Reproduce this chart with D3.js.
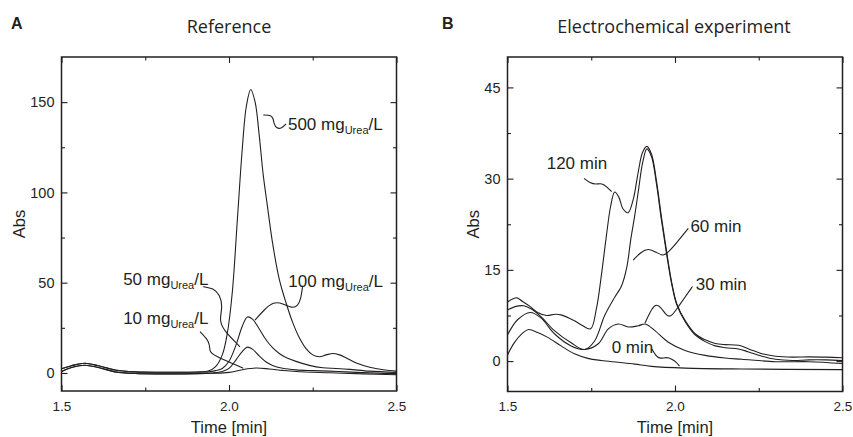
<!DOCTYPE html>
<html>
<head>
<meta charset="utf-8">
<script src="https://cdn.jsdelivr.net/npm/d3@7"></script>
<style>
  body { margin: 0; background: #fff; }
  svg { display: block; }
</style>
</head>
<body>
<div id="chart"></div>
<script>
// ---- Panel A: reference chromatograms, [time (min), Abs] ----
const ref500 = [[1.5,2.3],[1.53,4.0],[1.57,5.4],[1.61,4.0],[1.66,1.6],[1.72,0.6],[1.8,0.4],[1.9,0.5],[1.94,1.2],[1.96,3.5],[1.98,10],[1.995,22],[2.01,45],[2.025,85],[2.04,125],[2.052,148],[2.065,157],[2.078,150],[2.09,132],[2.102,110],[2.115,92],[2.13,72],[2.15,52],[2.17,39],[2.19,28],[2.21,19.5],[2.23,13.5],[2.25,10],[2.27,9],[2.29,10],[2.31,10.8],[2.33,10],[2.35,8.3],[2.38,5.5],[2.42,3.2],[2.46,1.8],[2.5,1.0]];
const ref100 = [[1.5,2.3],[1.53,4.0],[1.57,5.4],[1.61,4.0],[1.66,1.6],[1.72,0.6],[1.8,0.4],[1.9,0.4],[1.94,0.6],[1.96,1.3],[1.98,2.5],[2.0,6.5],[2.02,15],[2.04,26],[2.055,31],[2.07,29.8],[2.09,24.5],[2.11,18.5],[2.13,14],[2.15,10.8],[2.17,8.6],[2.2,6.4],[2.24,4.2],[2.28,2.9],[2.32,2.5],[2.36,2.0],[2.42,1.0],[2.5,0.3]];
const ref50  = [[1.5,0.8],[1.53,3.0],[1.57,4.3],[1.61,3.0],[1.66,0.6],[1.72,-0.3],[1.8,-0.5],[1.9,-0.4],[1.95,0],[1.98,0.8],[2.0,2.5],[2.02,7],[2.04,12],[2.055,14.3],[2.07,13.2],[2.09,9.5],[2.11,6.2],[2.13,4.1],[2.16,2.6],[2.2,1.7],[2.25,1.3],[2.3,1.0],[2.35,0.6],[2.4,0.2],[2.5,-0.5]];
const ref10  = [[1.5,0.8],[1.53,3.0],[1.57,4.3],[1.61,3.0],[1.66,0.6],[1.72,-0.3],[1.8,-0.5],[1.9,-0.4],[1.95,-0.2],[2.0,0.3],[2.04,1.8],[2.08,2.7],[2.12,2.2],[2.16,1.4],[2.2,0.8],[2.3,0.1],[2.4,-0.5],[2.5,-1.0]];

// leader squiggles from curve to label
const leadA500 = [[2.1024,142.9],[2.1245,142.9],[2.1322,141.0],[2.1343,137.9],[2.1424,135.3],[2.1573,135.5],[2.1701,137.9]];
const leadA100 = [[2.0776,29.3],[2.1045,34.9],[2.1322,39.5],[2.1612,38.5],[2.1872,35.8],[2.206,37.1],[2.2149,41.5],[2.2194,47.6]];
const leadA50  = [[1.9233,47.8],[1.9531,46.9],[1.9731,43.2],[1.9812,36.7],[1.971,29.3],[1.983,23.8],[2.0328,14.5]];
const leadA10  = [[1.9134,22.9],[1.9433,17.3],[1.9412,11.8],[1.9531,9.9],[2.0427,2.6]];

// label anchors [t, v] and text pieces
const labelsA = [
  { at: [2.176, 134.8], main: "500 mg", sub: "Urea", tail: "/L" },
  { at: [2.177, 47.8],  main: "100 mg", sub: "Urea", tail: "/L" },
  { at: [1.684, 48.7],  main: "50 mg",  sub: "Urea", tail: "/L" },
  { at: [1.684, 27.1],  main: "10 mg",  sub: "Urea", tail: "/L" }
];

// ---- Panel B: electrochemical experiment ----
const ec120 = [[1.5,9.7],[1.515,10.2],[1.528,10.4],[1.545,9.8],[1.567,9.0],[1.59,8.0],[1.617,7.5],[1.642,7.7],[1.66,7.6],[1.697,6.7],[1.722,5.9],[1.748,5.3],[1.765,8.5],[1.78,14],[1.795,20.5],[1.808,25.5],[1.82,27.8],[1.832,27],[1.845,25],[1.86,24.4],[1.875,26.5],[1.89,31],[1.903,34.3],[1.916,35.3],[1.93,34],[1.945,29.5],[1.96,23.5],[1.975,18],[1.99,13],[2.005,9.5],[2.03,6.7],[2.06,4.5],[2.09,3.5],[2.12,2.9],[2.15,2.7],[2.19,2.6],[2.22,2.0],[2.26,1.2],[2.3,0.8],[2.35,0.65],[2.4,0.7],[2.45,0.65],[2.5,0.55]];
const ec60  = [[1.5,8.4],[1.525,9.0],[1.548,9.1],[1.57,8.6],[1.6,7.3],[1.64,5.0],[1.69,3.0],[1.73,1.9],[1.76,3.3],[1.79,7.5],[1.82,10.5],[1.84,12.3],[1.856,15.4],[1.868,20],[1.88,24],[1.892,28.5],[1.903,32.5],[1.916,34.9],[1.93,33.6],[1.945,29],[1.96,23],[1.975,17.6],[1.99,12.7],[2.005,9.3],[2.03,6.5],[2.06,4.3],[2.09,3.2],[2.12,2.5],[2.15,2.2],[2.19,2.0],[2.22,1.5],[2.26,0.8],[2.3,0.3],[2.35,0.1],[2.4,0.2],[2.45,0.2],[2.5,0.1]];
const ec30  = [[1.5,4.3],[1.53,6.8],[1.568,8.0],[1.6,7.1],[1.64,4.5],[1.69,2.5],[1.73,1.9],[1.771,2.85],[1.801,5.3],[1.831,6.1],[1.861,5.6],[1.89,5.8],[1.911,6.1],[1.94,5.0],[1.98,3.1],[2.03,1.75],[2.09,0.94],[2.15,0.5],[2.2,0.3],[2.3,-0.1],[2.4,-0.1],[2.5,-0.4]];
const ec0   = [[1.5,1.0],[1.52,3.0],[1.545,4.6],[1.563,5.2],[1.59,4.7],[1.62,3.9],[1.66,2.5],[1.7,1.2],[1.74,0.45],[1.78,0.1],[1.831,-0.2],[1.88,-0.5],[1.93,-0.87],[2.03,-1.15],[2.2,-1.3],[2.5,-1.4]];

const leadB120 = [[1.7284,30.05],[1.7463,29.28],[1.7642,29.04],[1.7821,29.28],[1.797,28.62],[1.811,27.85]];
const leadB60  = [[1.8755,16.62],[1.8985,17.94],[1.9203,18.55],[1.9433,17.94],[1.9651,17.16],[1.985,18.09],[2.0397,21.83]];
const leadB30  = [[1.9104,6.26],[1.9254,8.07],[1.9418,9.47],[1.9582,8.89],[1.9761,7.25],[1.991,7.41],[2.0099,8.94],[2.0522,12.26]];
const leadB0   = [[1.9313,1.99],[1.9433,0.84],[1.9552,0.35],[1.9746,0.67],[1.991,0.35],[2.003,-0.15],[2.0134,-0.81]];

const labelsB = [
  { at: [1.617, 31.6], main: "120 min" },
  { at: [2.046, 21.3], main: "60 min" },
  { at: [2.062, 11.7], main: "30 min" },
  { at: [1.811, 1.26], main: "0 min" }
];

// ---- axes ticks ----
const timeMajor = [1.5, 2.0, 2.5];
const timeMinor = [1.75, 2.25];
const absMajorA = [0, 50, 100, 150];
const absMinorA = [25, 75, 125];
const absMajorB = [0, 15, 30, 45];
const absMinorB = [7.5, 22.5, 37.5];

const W = 853, H = 437;
const ink = "#231f20";
const sans = "'Liberation Sans', Arial, sans-serif";

const svg = d3.select("#chart").append("svg")
  .attr("width", W)
  .attr("height", H);

function drawPanel(cfg) {
  const x = d3.scaleLinear().domain([1.5, 2.5]).range(cfg.xr);
  const y = d3.scaleLinear().domain(cfg.yd).range(cfg.yr);
  const g = svg.append("g");
  const id = "clip" + cfg.letter;

  g.append("clipPath").attr("id", id)
    .append("rect")
      .attr("x", cfg.xr[0]).attr("y", cfg.yr[1])
      .attr("width", cfg.xr[1] - cfg.xr[0])
      .attr("height", cfg.yr[0] - cfg.yr[1]);

  // ticks (all pointing inward)
  const styleAxis = size => sel => {
    sel.select(".domain").remove();
    sel.selectAll("line").attr("stroke", ink).attr("stroke-width", 1.1);
    sel.selectAll("text").attr("fill", ink);
    sel.attr("font-family", sans).attr("font-size", size);
  };
  g.append("g").attr("transform", `translate(0,${cfg.yr[0]})`)
    .call(d3.axisBottom(x).tickValues(timeMajor).tickSize(-6).tickPadding(10).tickFormat(d3.format(".1f")))
    .call(styleAxis(13.5));
  g.append("g").attr("transform", `translate(0,${cfg.yr[0]})`)
    .call(d3.axisBottom(x).tickValues(timeMinor).tickSize(-3.5).tickFormat(""))
    .call(styleAxis(13.5));
  g.append("g").attr("transform", `translate(0,${cfg.yr[1]})`)
    .call(d3.axisTop(x).tickValues(timeMajor).tickSize(-6).tickFormat(""))
    .call(styleAxis(13.5));
  g.append("g").attr("transform", `translate(0,${cfg.yr[1]})`)
    .call(d3.axisTop(x).tickValues(timeMinor).tickSize(-3.5).tickFormat(""))
    .call(styleAxis(13.5));
  g.append("g").attr("transform", `translate(${cfg.xr[0]},0)`)
    .call(d3.axisLeft(y).tickValues(cfg.major).tickSize(-6).tickPadding(7))
    .call(styleAxis(14.5));
  g.append("g").attr("transform", `translate(${cfg.xr[0]},0)`)
    .call(d3.axisLeft(y).tickValues(cfg.minor).tickSize(-3.5).tickFormat(""))
    .call(styleAxis(14.5));
  g.append("g").attr("transform", `translate(${cfg.xr[1]},0)`)
    .call(d3.axisRight(y).tickValues(cfg.major).tickSize(-6).tickFormat(""))
    .call(styleAxis(14.5));
  g.append("g").attr("transform", `translate(${cfg.xr[1]},0)`)
    .call(d3.axisRight(y).tickValues(cfg.minor).tickSize(-3.5).tickFormat(""))
    .call(styleAxis(14.5));

  // curves
  const line = d3.line()
    .x(d => x(d[0]))
    .y(d => y(d[1]))
    .curve(d3.curveCatmullRom.alpha(0.5));

  g.append("g").attr("clip-path", `url(#${id})`)
    .selectAll("path.trace")
    .data(cfg.series)
    .join("path")
      .attr("class", "trace")
      .attr("d", line)
      .attr("fill", "none")
      .attr("stroke", ink)
      .attr("stroke-width", 1.1);

  // leader squiggles
  const lead = d3.line()
    .x(d => x(d[0]))
    .y(d => y(d[1]))
    .curve(d3.curveBasis);
  g.selectAll("path.lead")
    .data(cfg.leaders)
    .join("path")
      .attr("class", "lead")
      .attr("d", lead)
      .attr("fill", "none")
      .attr("stroke", ink)
      .attr("stroke-width", 1.1);

  // labels
  const lab = g.selectAll("text.lab")
    .data(cfg.labels)
    .join("text")
      .attr("class", "lab")
      .attr("x", d => x(d.at[0]))
      .attr("y", d => y(d.at[1]))
      .attr("font-family", sans)
      .attr("font-size", 17)
      .attr("fill", ink);
  lab.append("tspan").text(d => d.main);
  lab.filter(d => d.sub).append("tspan")
    .attr("dy", 4).attr("font-size", 11).text(d => d.sub);
  lab.filter(d => d.tail).append("tspan")
    .attr("dy", -4).text(d => d.tail);

  // frame
  g.append("rect")
    .attr("x", cfg.xr[0]).attr("y", cfg.yr[1])
    .attr("width", cfg.xr[1] - cfg.xr[0])
    .attr("height", cfg.yr[0] - cfg.yr[1])
    .attr("fill", "none")
    .attr("stroke", ink)
    .attr("stroke-width", 1.5);

  // axis titles
  const cx = (cfg.xr[0] + cfg.xr[1]) / 2;
  const cy = (cfg.yr[0] + cfg.yr[1]) / 2;
  g.append("text")
    .attr("x", cx).attr("y", 433)
    .attr("text-anchor", "middle")
    .attr("font-family", sans).attr("font-size", 16.5)
    .attr("fill", ink)
    .text("Time [min]");
  g.append("text")
    .attr("transform", `translate(${cfg.xr[0] - cfg.absOffset},${cy}) rotate(-90)`)
    .attr("text-anchor", "middle")
    .attr("font-family", sans).attr("font-size", 16.5)
    .attr("fill", ink)
    .text("Abs");

  // panel title and letter
  g.append("text")
    .attr("x", cfg.titleX).attr("y", 33)
    .attr("text-anchor", "middle")
    .attr("font-family", "'Open Sans', sans-serif").attr("font-size", 18)
    .attr("fill", ink)
    .text(cfg.title);
  g.append("text")
    .attr("x", cfg.letterX).attr("y", 28.5)
    .attr("font-family", sans).attr("font-size", 16).attr("font-weight", "bold")
    .attr("fill", ink)
    .text(cfg.letter);
}

drawPanel({
  letter: "A", letterX: 11, title: "Reference", titleX: 229,
  xr: [61.5, 396.5], yd: [-10, 175], yr: [391, 57], absOffset: 37,
  major: absMajorA, minor: absMinorA,
  series: [ref500, ref100, ref50, ref10],
  leaders: [leadA500, leadA100, leadA50, leadA10],
  labels: labelsA
});

drawPanel({
  letter: "B", letterX: 442, title: "Electrochemical experiment", titleX: 674,
  xr: [507.5, 842.5], yd: [-5, 50], yr: [391.5, 57], absOffset: 29,
  major: absMajorB, minor: absMinorB,
  series: [ec120, ec60, ec30, ec0],
  leaders: [leadB120, leadB60, leadB30, leadB0],
  labels: labelsB
});
</script>
</body>
</html>
